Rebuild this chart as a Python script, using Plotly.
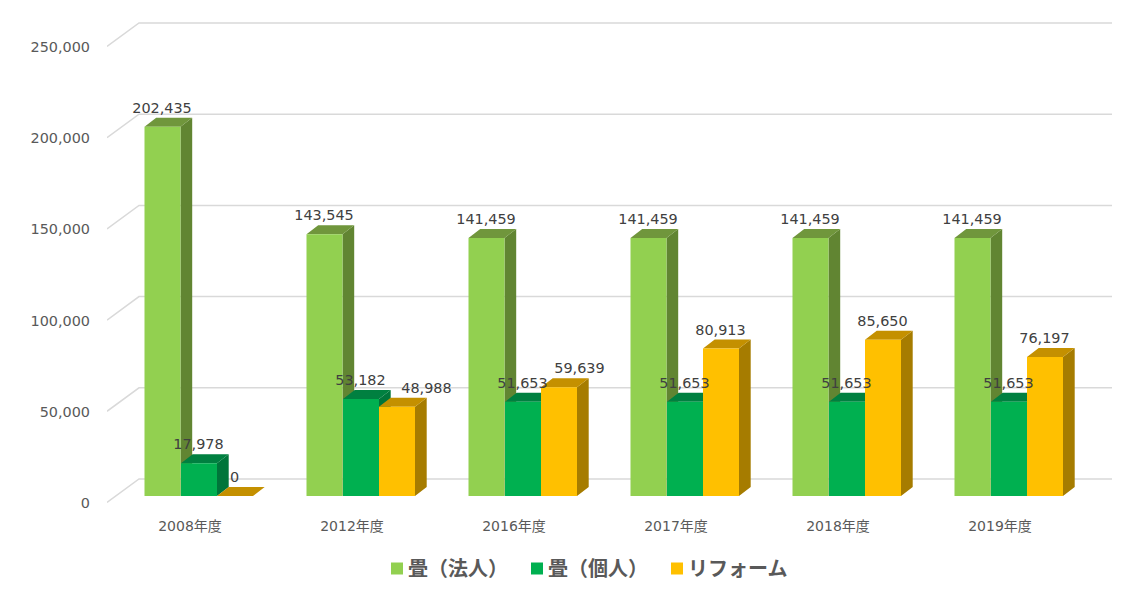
import plotly.graph_objects as go

categories = ["2008年度", "2012年度", "2016年度", "2017年度", "2018年度", "2019年度"]
corporate = [202435, 143545, 141459, 141459, 141459, 141459]
individual = [17978, 53182, 51653, 51653, 51653, 51653]
reform = [0, 48988, 59639, 80913, 85650, 76197]
y_ticks = [0, 50000, 100000, 150000, 200000, 250000]

W, H = 1148, 597
L, R, T, B = 107, 1112, 15, 510
PX_PER_UNIT = (479 - 23) / 250000
BASE_PX = 496
CAT0_PX, CAT_STEP = 190, 162
LABEL_SHIFT_PX = {(2, 1): 30, (2, 2): 21}


def dy(px):
    return px / PX_PER_UNIT


def dx(px):
    return px / CAT_STEP


BAR_W = dx(36)
DEPTH_X, DEPTH_Y = dx(11.7), dy(9)
series = [
    ("畳（法人）", corporate, "#92D050", "#618532", "#70963C", dx(-27.5)),
    ("畳（個人）", individual, "#00B050", "#00753A", "#008040", dx(9)),
    ("リフォーム", reform, "#FFC000", "#A67C00", "#C49000", dx(45)),
]

fig = go.Figure()

# back-wall gridlines and their floor diagonals
gx, gy = [], []
for t in y_ticks:
    gx += [dx(L - CAT0_PX), dx(139 - CAT0_PX), dx(R - CAT0_PX), None]
    gy += [t + dy(BASE_PX - 502.5), t + dy(BASE_PX - 479), t + dy(BASE_PX - 479), None]
fig.add_trace(go.Scatter(x=gx, y=gy, mode="lines", line=dict(color="#D9D9D9", width=1.5),
                         showlegend=False, hoverinfo="skip", zorder=0))

for s, (name, vals, front, side, top, off) in enumerate(series):
    sx, sy, tx, ty = [], [], [], []
    for i, v in enumerate(vals):
        x0 = i + off - BAR_W / 2
        x1 = x0 + BAR_W
        if v > 0:
            sx += [x1, x1 + DEPTH_X, x1 + DEPTH_X, x1, x1, None]
            sy += [0, DEPTH_Y, v + DEPTH_Y, v, 0, None]
        tx += [x0, x0 + DEPTH_X, x1 + DEPTH_X, x1, x0, None]
        ty += [v, v + DEPTH_Y, v + DEPTH_Y, v, v, None]
    z = 1 + 2 * s
    fig.add_trace(go.Scatter(x=sx, y=sy, mode="lines", fill="toself", fillcolor=side,
                             line=dict(width=0, color=side), showlegend=False,
                             hoverinfo="skip", zorder=z))
    fig.add_trace(go.Scatter(x=tx, y=ty, mode="lines", fill="toself", fillcolor=top,
                             line=dict(width=0, color=top), showlegend=False,
                             hoverinfo="skip", zorder=z))
    fig.add_trace(go.Bar(x=[i + off for i in range(len(vals))], y=vals, width=BAR_W, name=name,
                         marker=dict(color=front, line=dict(width=0)), zorder=z + 1))

for s, (name, vals, front, side, top, off) in enumerate(series):
    fig.add_trace(go.Scatter(
        x=[i + off + dx(LABEL_SHIFT_PX.get((s, i), 0) - 0.5) for i in range(len(vals))],
        y=[v + dy(17.5) for v in vals],
        mode="text",
        text=[f"{v:,}" for v in vals],
        textposition="middle center",
        textfont=dict(family="DejaVu Sans, Noto Sans CJK JP", size=14.4, color="#404040"),
        showlegend=False, hoverinfo="skip", zorder=20,
    ))

fig.update_layout(
    width=W, height=H,
    margin=dict(l=L, r=W - R, t=T, b=H - B, pad=0, autoexpand=False),
    paper_bgcolor="white", plot_bgcolor="white",
    barmode="overlay",
    font=dict(family="DejaVu Sans, Noto Sans CJK JP", size=14, color="#595959"),
    showlegend=True,
    legend=dict(
        orientation="h", x=(368 - L) / (R - L), xanchor="left",
        y=(B - 549) / (B - T), yanchor="top",
        entrywidth=95, entrywidthmode="pixels",
        font=dict(family="Noto Sans CJK JP", size=20, color="#595959", weight="bold"),
        bgcolor="rgba(0,0,0,0)",
    ),
    xaxis=dict(
        range=[dx(L - CAT0_PX), dx(R - CAT0_PX)],
        tickmode="array", tickvals=list(range(len(categories))), ticktext=categories,
        showgrid=False, zeroline=False, showline=False, ticks="",
        ticklabelstandoff=6,
        tickfont=dict(family="DejaVu Sans, Noto Sans CJK JP", size=14, color="#595959"),
    ),
    yaxis=dict(
        range=[dy(BASE_PX - B), dy(BASE_PX - T)],
        tickmode="array", tickvals=y_ticks, tickformat=",",
        showgrid=False, zeroline=False, showline=False, ticks="",
        ticklabelshift=7, ticklabelstandoff=16,
        tickfont=dict(family="DejaVu Sans, Noto Sans CJK JP", size=14.4, color="#595959"),
    ),
)

fig.write_html("out.html", config={"displayModeBar": False},
               post_script="document.body.style.margin='0';"
                           "document.querySelectorAll('.legend .legendsymbols')"
                           ".forEach(function(e){e.setAttribute('transform','translate(9,0)');});")
